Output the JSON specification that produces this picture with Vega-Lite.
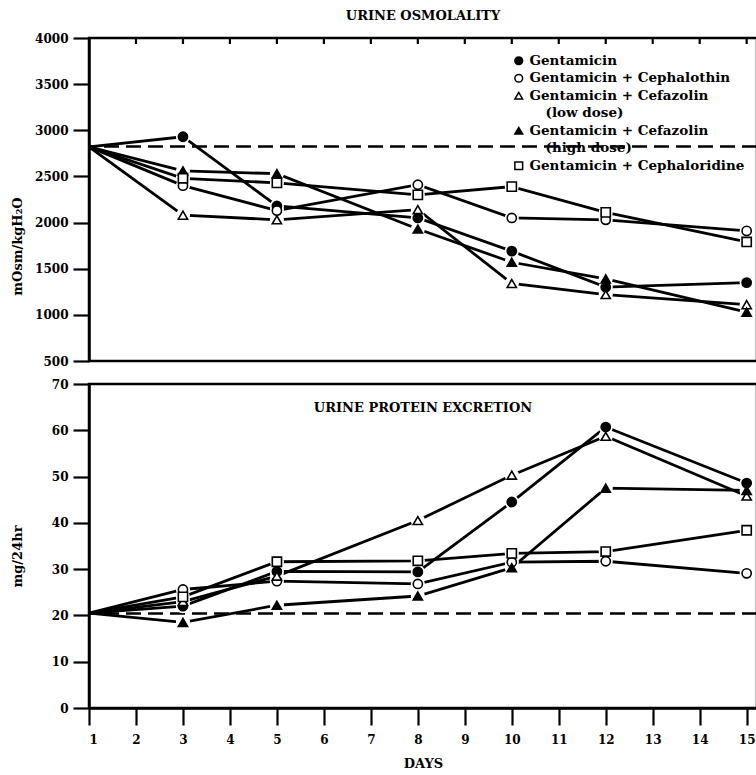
{
  "$schema": "https://vega.github.io/schema/vega-lite/v6.json",
  "background": "white",
  "padding": {"left": 9, "top": 8, "right": 0, "bottom": 0},
  "spacing": 7,
  "config": {
    "font": "DejaVu Serif",
    "axis": {
      "labelFont": "DejaVu Serif", "labelFontWeight": "bold", "labelFontSize": 12, "labelColor": "black",
      "titleFont": "DejaVu Serif", "titleFontWeight": "bold", "titleFontSize": 13, "titleColor": "black",
      "domainColor": "black", "domainWidth": 2.5, "tickColor": "black", "tickWidth": 2.2, "grid": false
    },
    "legend": {
      "labelFont": "DejaVu Serif", "labelFontWeight": "bold", "labelFontSize": 13.5, "labelColor": "black",
      "symbolStrokeColor": "black", "symbolStrokeWidth": 1.5, "symbolSize": 60, "symbolOpacity": 1,
      "rowPadding": 2.5, "labelOffset": 4, "labelLimit": 400
    }
  },
  "datasets": {
    "osm": [
      {"series": "Gentamicin", "day": 1, "value": 2820},
      {"series": "Gentamicin", "day": 3, "value": 2930},
      {"series": "Gentamicin", "day": 5, "value": 2180},
      {"series": "Gentamicin", "day": 8, "value": 2050},
      {"series": "Gentamicin", "day": 10, "value": 1690},
      {"series": "Gentamicin", "day": 12, "value": 1300},
      {"series": "Gentamicin", "day": 15, "value": 1350},
      {"series": "Gentamicin + Cephalothin", "day": 1, "value": 2820},
      {"series": "Gentamicin + Cephalothin", "day": 3, "value": 2400},
      {"series": "Gentamicin + Cephalothin", "day": 5, "value": 2130},
      {"series": "Gentamicin + Cephalothin", "day": 8, "value": 2410},
      {"series": "Gentamicin + Cephalothin", "day": 10, "value": 2050},
      {"series": "Gentamicin + Cephalothin", "day": 12, "value": 2030},
      {"series": "Gentamicin + Cephalothin", "day": 15, "value": 1910},
      {"series": "Gentamicin + Cefazolin (low dose)", "day": 1, "value": 2820},
      {"series": "Gentamicin + Cefazolin (low dose)", "day": 3, "value": 2080},
      {"series": "Gentamicin + Cefazolin (low dose)", "day": 5, "value": 2030},
      {"series": "Gentamicin + Cefazolin (low dose)", "day": 8, "value": 2140},
      {"series": "Gentamicin + Cefazolin (low dose)", "day": 10, "value": 1340},
      {"series": "Gentamicin + Cefazolin (low dose)", "day": 12, "value": 1220},
      {"series": "Gentamicin + Cefazolin (low dose)", "day": 15, "value": 1110},
      {"series": "Gentamicin + Cefazolin (high dose)", "day": 1, "value": 2820},
      {"series": "Gentamicin + Cefazolin (high dose)", "day": 3, "value": 2560},
      {"series": "Gentamicin + Cefazolin (high dose)", "day": 5, "value": 2530},
      {"series": "Gentamicin + Cefazolin (high dose)", "day": 8, "value": 1930},
      {"series": "Gentamicin + Cefazolin (high dose)", "day": 10, "value": 1570},
      {"series": "Gentamicin + Cefazolin (high dose)", "day": 12, "value": 1390},
      {"series": "Gentamicin + Cefazolin (high dose)", "day": 15, "value": 1030},
      {"series": "Gentamicin + Cephaloridine", "day": 1, "value": 2820},
      {"series": "Gentamicin + Cephaloridine", "day": 3, "value": 2480},
      {"series": "Gentamicin + Cephaloridine", "day": 5, "value": 2430},
      {"series": "Gentamicin + Cephaloridine", "day": 8, "value": 2300},
      {"series": "Gentamicin + Cephaloridine", "day": 10, "value": 2390},
      {"series": "Gentamicin + Cephaloridine", "day": 12, "value": 2110},
      {"series": "Gentamicin + Cephaloridine", "day": 15, "value": 1790}
    ],
    "prot": [
      {"series": "Gentamicin", "day": 1, "value": 20.5},
      {"series": "Gentamicin", "day": 3, "value": 22},
      {"series": "Gentamicin", "day": 5, "value": 29.5},
      {"series": "Gentamicin", "day": 8, "value": 29.4},
      {"series": "Gentamicin", "day": 10, "value": 44.5},
      {"series": "Gentamicin", "day": 12, "value": 60.7},
      {"series": "Gentamicin", "day": 15, "value": 48.6},
      {"series": "Gentamicin + Cephalothin", "day": 1, "value": 20.5},
      {"series": "Gentamicin + Cephalothin", "day": 3, "value": 25.6},
      {"series": "Gentamicin + Cephalothin", "day": 5, "value": 27.4},
      {"series": "Gentamicin + Cephalothin", "day": 8, "value": 26.8},
      {"series": "Gentamicin + Cephalothin", "day": 10, "value": 31.5},
      {"series": "Gentamicin + Cephalothin", "day": 12, "value": 31.7},
      {"series": "Gentamicin + Cephalothin", "day": 15, "value": 29.1},
      {"series": "Gentamicin + Cefazolin (low dose)", "day": 1, "value": 20.5},
      {"series": "Gentamicin + Cefazolin (low dose)", "day": 3, "value": 23},
      {"series": "Gentamicin + Cefazolin (low dose)", "day": 5, "value": 28.5},
      {"series": "Gentamicin + Cefazolin (low dose)", "day": 8, "value": 40.5},
      {"series": "Gentamicin + Cefazolin (low dose)", "day": 10, "value": 50.3},
      {"series": "Gentamicin + Cefazolin (low dose)", "day": 12, "value": 58.7},
      {"series": "Gentamicin + Cefazolin (low dose)", "day": 15, "value": 45.8},
      {"series": "Gentamicin + Cefazolin (high dose)", "day": 1, "value": 20.5},
      {"series": "Gentamicin + Cefazolin (high dose)", "day": 3, "value": 18.5},
      {"series": "Gentamicin + Cefazolin (high dose)", "day": 5, "value": 22.2},
      {"series": "Gentamicin + Cefazolin (high dose)", "day": 8, "value": 24.2},
      {"series": "Gentamicin + Cefazolin (high dose)", "day": 10, "value": 30.3},
      {"series": "Gentamicin + Cefazolin (high dose)", "day": 12, "value": 47.5},
      {"series": "Gentamicin + Cefazolin (high dose)", "day": 15, "value": 47},
      {"series": "Gentamicin + Cephaloridine", "day": 1, "value": 20.5},
      {"series": "Gentamicin + Cephaloridine", "day": 3, "value": 24},
      {"series": "Gentamicin + Cephaloridine", "day": 5, "value": 31.6},
      {"series": "Gentamicin + Cephaloridine", "day": 8, "value": 31.8},
      {"series": "Gentamicin + Cephaloridine", "day": 10, "value": 33.4},
      {"series": "Gentamicin + Cephaloridine", "day": 12, "value": 33.8},
      {"series": "Gentamicin + Cephaloridine", "day": 15, "value": 38.4}
    ]
  },
  "vconcat": [
    {
      "width": 668,
      "height": 323,
      "view": {"stroke": "black", "strokeWidth": 2.5},
      "title": {"text": "URINE OSMOLALITY", "font": "DejaVu Serif", "fontSize": 13, "fontWeight": "bold", "color": "black", "offset": 9, "anchor": "middle"},
      "data": {"name": "osm"},
      "layer": [
        {
          "data": {"values": [{"control": 2825}]},
          "mark": {"type": "rule", "strokeDash": [15, 7], "strokeWidth": 2.5, "color": "black"},
          "encoding": {
            "y": {"field": "control", "type": "quantitative", "title": "mOsm/kgH₂O",
              "scale": {"domain": [500, 4000], "nice": false, "zero": false},
              "axis": {"values": [500, 1000, 1500, 2000, 2500, 3000, 3500, 4000], "format": "d", "tickSize": 16, "labelPadding": 5, "titleX": -65, "titleY": 208}}
          }
        },
        {
          "data": {"values": [{"tick": 2}, {"tick": 3}, {"tick": 4}, {"tick": 5}, {"tick": 6}, {"tick": 7}, {"tick": 8}, {"tick": 9}, {"tick": 10}, {"tick": 11}, {"tick": 12}, {"tick": 13}, {"tick": 14}, {"tick": 15}]},
          "mark": {"type": "rule", "strokeWidth": 2.2, "color": "black"},
          "encoding": {
            "x": {"field": "tick", "type": "quantitative", "axis": null},
            "y": {"datum": 4000, "type": "quantitative"},
            "y2": {"datum": 3935}
          }
        },
        {
          "mark": {"type": "line", "color": "black", "strokeWidth": 2.8},
          "encoding": {
            "x": {"field": "day", "type": "quantitative", "scale": {"domain": [1, 15.22], "nice": false, "zero": false}, "axis": null},
            "y": {"field": "value", "type": "quantitative", "title": "mOsm/kgH₂O"},
            "detail": {"field": "series"}
          }
        },
        {
          "transform": [{"filter": "datum.day > 1"}],
          "mark": {"type": "point", "shape": "circle", "filled": true, "color": "white", "size": 200, "opacity": 1},
          "encoding": {
            "x": {"field": "day", "type": "quantitative", "axis": null},
            "y": {"field": "value", "type": "quantitative", "title": "mOsm/kgH₂O"}
          }
        },
        {
          "transform": [{"filter": "datum.day > 1"}],
          "mark": {"type": "point", "stroke": "black", "strokeWidth": 1.6, "size": 85, "opacity": 1},
          "encoding": {
            "x": {"field": "day", "type": "quantitative", "axis": null},
            "y": {"field": "value", "type": "quantitative", "title": "mOsm/kgH₂O"},
            "shape": {"field": "series", "type": "nominal",
              "scale": {"domain": ["Gentamicin", "Gentamicin + Cephalothin", "Gentamicin + Cefazolin (low dose)", "(low dose)", "Gentamicin + Cefazolin (high dose)", "(high dose)", "Gentamicin + Cephaloridine"],
                "range": ["circle", "circle", "triangle-up", "M0,0", "triangle-up", "M0,0", "square"]},
              "legend": {"title": null, "orient": "none", "legendX": 423, "legendY": 16,
                "symbolStrokeColor": "black", "symbolStrokeWidth": 1.5,
                "labelExpr": "indexof(datum.label, 'Cefazolin (') >= 0 ? 'Gentamicin + Cefazolin' : datum.label",
                "encode": {"symbols": {"update": {"stroke": {"value": "black"}, "strokeWidth": {"value": 1.5}}},
                           "labels": {"update": {"dx": {"signal": "datum.index == 3 || datum.index == 5 ? 16 : 0"}}}}}},
            "fill": {"field": "series", "type": "nominal",
              "scale": {"domain": ["Gentamicin", "Gentamicin + Cephalothin", "Gentamicin + Cefazolin (low dose)", "(low dose)", "Gentamicin + Cefazolin (high dose)", "(high dose)", "Gentamicin + Cephaloridine"],
                "range": ["black", "white", "white", "transparent", "black", "transparent", "white"]},
              "legend": {"title": null, "orient": "none", "legendX": 423, "legendY": 16,
                "symbolStrokeColor": "black", "symbolStrokeWidth": 1.5,
                "labelExpr": "indexof(datum.label, 'Cefazolin (') >= 0 ? 'Gentamicin + Cefazolin' : datum.label",
                "encode": {"symbols": {"update": {"stroke": {"value": "black"}, "strokeWidth": {"value": 1.5}}},
                           "labels": {"update": {"dx": {"signal": "datum.index == 3 || datum.index == 5 ? 16 : 0"}}}}}}
          }
        }
      ]
    },
    {
      "width": 668,
      "height": 324,
      "view": {"stroke": "black", "strokeWidth": 2.5},
      "title": {"text": "URINE PROTEIN EXCRETION", "font": "DejaVu Serif", "fontSize": 13, "fontWeight": "bold", "color": "black", "offset": -37, "anchor": "middle"},
      "data": {"name": "prot"},
      "layer": [
        {
          "data": {"values": [{"control": 20.4}]},
          "mark": {"type": "rule", "strokeDash": [15, 7], "strokeWidth": 2.5, "color": "black"},
          "encoding": {
            "y": {"field": "control", "type": "quantitative", "title": "mg/24hr",
              "scale": {"domain": [0, 70], "nice": false},
              "axis": {"values": [0, 10, 20, 30, 40, 50, 60, 70], "tickSize": 16, "labelPadding": 5, "titleX": -65, "titleY": 172}}
          }
        },
        {
          "mark": {"type": "line", "color": "black", "strokeWidth": 2.8},
          "encoding": {
            "x": {"field": "day", "type": "quantitative", "scale": {"domain": [1, 15.22], "nice": false, "zero": false},
              "axis": {"orient": "bottom", "values": [1, 2, 3, 4, 5, 6, 7, 8, 9, 10, 11, 12, 13, 14, 15], "title": "DAYS", "tickSize": 17, "labelPadding": 9, "titlePadding": 12}},
            "y": {"field": "value", "type": "quantitative", "title": "mg/24hr"},
            "detail": {"field": "series"}
          }
        },
        {
          "transform": [{"filter": "datum.day > 1"}],
          "mark": {"type": "point", "shape": "circle", "filled": true, "color": "white", "size": 200, "opacity": 1},
          "encoding": {
            "x": {"field": "day", "type": "quantitative"},
            "y": {"field": "value", "type": "quantitative", "title": "mg/24hr"}
          }
        },
        {
          "transform": [{"filter": "datum.day > 1"}],
          "mark": {"type": "point", "stroke": "black", "strokeWidth": 1.6, "size": 85, "opacity": 1},
          "encoding": {
            "x": {"field": "day", "type": "quantitative"},
            "y": {"field": "value", "type": "quantitative", "title": "mg/24hr"},
            "shape": {"field": "series", "type": "nominal",
              "scale": {"domain": ["Gentamicin", "Gentamicin + Cephalothin", "Gentamicin + Cefazolin (low dose)", "Gentamicin + Cefazolin (high dose)", "Gentamicin + Cephaloridine"],
                "range": ["circle", "circle", "triangle-up", "triangle-up", "square"]},
              "legend": null},
            "fill": {"field": "series", "type": "nominal",
              "scale": {"domain": ["Gentamicin", "Gentamicin + Cephalothin", "Gentamicin + Cefazolin (low dose)", "Gentamicin + Cefazolin (high dose)", "Gentamicin + Cephaloridine"],
                "range": ["black", "white", "white", "black", "white"]},
              "legend": null}
          }
        }
      ]
    }
  ],
  "resolve": {"legend": {"shape": "independent", "fill": "independent"}, "scale": {"shape": "independent", "fill": "independent"}}
}
